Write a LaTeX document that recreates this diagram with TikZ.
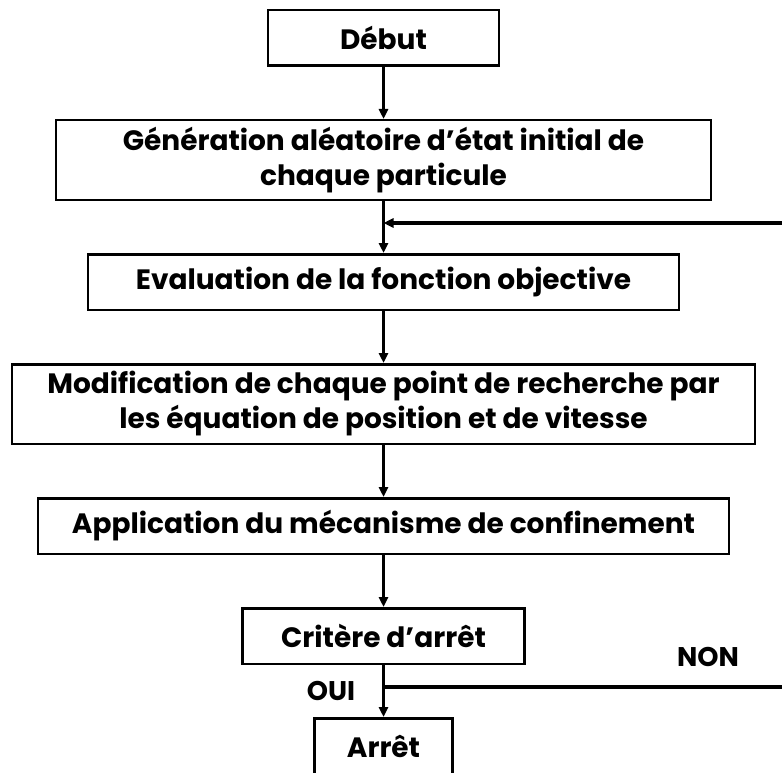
\documentclass[tikz,border=0pt]{standalone}
\usepackage{fontspec}
\setmainfont{Poppins}
\usetikzlibrary{arrows.meta,positioning}

\tikzset{
	etape/.style={draw, line width=2.5pt, inner sep=0pt, minimum height=55.5pt, align=center,
		font=\bfseries\fontsize{28}{35}\selectfont},
	etiq/.style={font=\bfseries\fontsize{27}{30}\selectfont, inner sep=0pt}
}

\begin{document}
\begin{tikzpicture}[x=1pt,y=-1pt,>={Triangle[length=10pt,width=9pt]},line width=3pt,node distance=52pt]
		\useasboundingbox (0,0) rectangle (782,773);
		\node[etape,minimum width=231pt] (deb) at (383.5,38) {Début};
		\node[etape,minimum width=655pt,minimum height=79.5pt] [below=of deb] (gen) {Génération aléatoire d’état initial de\\chaque particule};
		\node[etape,minimum width=591pt] [below=of gen] (eval) {Evaluation de la fonction objective};
		\node[etape,minimum width=743pt,minimum height=79.5pt] [below=of eval] (modif) {Modification de chaque point de recherche par\\les équation de position et de vitesse};
		\node[etape,minimum width=691pt] [below=of modif] (confin) {Application du mécanisme de confinement};
		\node[etape,minimum width=282pt] [below=of confin] (crit) {Critère d’arrêt};
		\node[etape,minimum width=138pt] [below=of crit] (arret) {Arrêt};
		\coordinate (retour) at (782,223);
		\coordinate (sortie) at (782,687);
		\path[->]
			(deb) edge (gen)
			(gen) edge (eval)
			(eval) edge (modif)
			(modif) edge (confin)
			(confin) edge (crit)
			(crit) edge (arret);
		\draw[->,line width=4pt] (retour) -- (retour -| gen.south);
		\draw[line width=4pt] (crit.south |- sortie) -- (sortie);
		\node[etiq] (oui) at (331,691) {OUI};
		\node[etiq] (non) at (708,657) {NON};
	\end{tikzpicture}
\end{document}
